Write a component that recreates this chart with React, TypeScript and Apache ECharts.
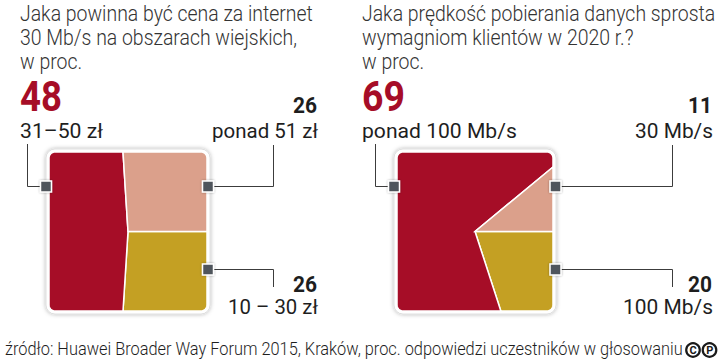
import React, { useEffect, useRef } from "react";
import * as echarts from "echarts";

const leftTitle = ["Jaka powinna być cena za internet", "30 Mb/s na obszarach wiejskich,", "w proc."];
const rightTitle = ["Jaka prędkość pobierania danych sprosta", "wymagniom klientów w 2020 r.?", "w proc."];
const leftCategories = ["31–50 zł", "ponad 51 zł", "10 – 30 zł"];
const leftValues = [48, 26, 26];
const rightCategories = ["ponad 100 Mb/s", "30 Mb/s", "100 Mb/s"];
const rightValues = [69, 11, 20];
const sourceText =
  "źródło: Huawei Broader Way Forum 2015, Kraków, proc. odpowiedzi uczestników w głosowaniu";

const COLORS = ["#a60d27", "#dba08b", "#c4a023"];
const ORDER = [2, 0, 1]; // drawing order, clockwise starting at east

type Box = { x0: number; y0: number; x1: number; y1: number; r: number };

function boundary(b: Box) {
  const cx = (b.x0 + b.x1) / 2;
  const cy = (b.y0 + b.y1) / 2;
  const pts: number[][] = [[b.x1, cy]];
  const arc = (ccx: number, ccy: number, a0: number) => {
    for (let k = 0; k <= 8; k++) {
      const a = ((a0 + (90 * k) / 8) * Math.PI) / 180;
      pts.push([ccx + b.r * Math.cos(a), ccy + b.r * Math.sin(a)]);
    }
  };
  arc(b.x1 - b.r, b.y1 - b.r, 0);
  arc(b.x0 + b.r, b.y1 - b.r, 90);
  arc(b.x0 + b.r, b.y0 + b.r, 180);
  arc(b.x1 - b.r, b.y0 + b.r, 270);
  pts.push([b.x1, cy]);
  const ang = pts.map((p, i) => {
    if (i === 0) return 90;
    if (i === pts.length - 1) return 450;
    let t = (Math.atan2(p[0] - cx, -(p[1] - cy)) * 180) / Math.PI;
    if (t < 90) t += 360;
    return t;
  });
  return { cx, cy, pts, ang };
}

function rayHit(B: ReturnType<typeof boundary>, a: number) {
  const d = [Math.sin((a * Math.PI) / 180), -Math.cos((a * Math.PI) / 180)];
  for (let i = 0; i < B.pts.length - 1; i++) {
    if (B.ang[i] <= a + 1e-9 && a <= B.ang[i + 1] + 1e-9) {
      const P = B.pts[i];
      const Q = B.pts[i + 1];
      const e = [Q[0] - P[0], Q[1] - P[1]];
      const w = [P[0] - B.cx, P[1] - B.cy];
      const det = -d[0] * e[1] + e[0] * d[1];
      if (Math.abs(det) < 1e-9) return P;
      const t = (-w[0] * e[1] + e[0] * w[1]) / det;
      return [B.cx + t * d[0], B.cy + t * d[1]];
    }
  }
  return [B.cx, B.cy];
}

function wedge(b: Box, a0: number, a1: number) {
  const B = boundary(b);
  const out: number[][] = [[B.cx, B.cy], rayHit(B, a0)];
  for (let i = 0; i < B.pts.length; i++) {
    if (B.ang[i] > a0 && B.ang[i] < a1) out.push(B.pts[i]);
  }
  out.push(rayHit(B, a1));
  return out;
}

const LEFT_BOX: Box = { x0: 49, y0: 152, x1: 207, y1: 311, r: 6 };
const RIGHT_BOX: Box = { x0: 397, y0: 152, x1: 553, y1: 311, r: 6 };

function squarePie(values: number[], box: Box) {
  const ordered = ORDER.map((i) => values[i]);
  const total = ordered.reduce((s, v) => s + v, 0);
  return {
    type: "custom",
    coordinateSystem: "none",
    z: 5,
    silent: true,
    data: ordered,
    renderItem: (params: any, api: any) => {
      const idx = params.dataIndex;
      let before = 0;
      for (let k = 0; k < idx; k++) before += ordered[k];
      const a0 = 90 + (360 * before) / total;
      const a1 = a0 + (360 * api.value(0)) / total;
      return {
        type: "polygon",
        shape: { points: wedge(box, a0, a1) },
        style: { fill: COLORS[ORDER[idx]], stroke: "#ffffff", lineWidth: 1.5 },
      };
    },
  };
}

let measureCtx: CanvasRenderingContext2D | null = null;
function fit(text: string, size: number, weight: number, target: number) {
  if (!measureCtx) measureCtx = document.createElement("canvas").getContext("2d");
  if (!measureCtx) return 1;
  measureCtx.font = `${weight} ${size}px Roboto`;
  const w = measureCtx.measureText(text).width;
  return w > 0 ? target / w : 1;
}

function txt(
  text: string,
  x: number,
  y: number,
  size: number,
  weight: number,
  color: string,
  align: string,
  sx: number
) {
  return {
    type: "text",
    x,
    y,
    scaleX: sx,
    z: 20,
    silent: true,
    style: {
      text,
      x: 0,
      y: 0,
      fill: color,
      fontSize: size,
      fontWeight: weight,
      fontFamily: "Roboto",
      align,
      verticalAlign: "middle",
    },
  };
}

function marker(x: number, y: number) {
  return {
    type: "rect",
    z: 30,
    silent: true,
    shape: { x: x - 5.5, y: y - 5.5, width: 11, height: 11 },
    style: {
      fill: "#50545b",
      stroke: "#ffffff",
      lineWidth: 1.5,
      shadowBlur: 2,
      shadowColor: "rgba(0,0,0,0.35)",
    },
  };
}

function conn(points: number[][]) {
  return {
    type: "polyline",
    z: 25,
    silent: true,
    shape: { points },
    style: { stroke: "#3c3c3c", lineWidth: 1, fill: null },
  };
}

function frame(b: Box) {
  return {
    type: "rect",
    z: 1,
    silent: true,
    shape: {
      x: b.x0 - 3,
      y: b.y0 - 3,
      width: b.x1 - b.x0 + 6,
      height: b.y1 - b.y0 + 6,
      r: b.r + 3,
    },
    style: {
      fill: "#ffffff",
      stroke: "#d8d8d8",
      lineWidth: 0.8,
      shadowBlur: 4,
      shadowColor: "rgba(0,0,0,0.3)",
    },
  };
}

export default function App() {
  const ref = useRef<HTMLDivElement>(null);
  useEffect(() => {
    if (!ref.current) return;
    const chart = echarts.init(ref.current, undefined, { renderer: "svg" });
    const titleScale = fit(leftTitle[0], 22, 300, 293);
    const RED = "#a60d27";
    const DARK = "#1e1e1e";
    const TITLE = "#333333";
    const elements: any[] = [];
    leftTitle.forEach((t, i) => elements.push(txt(t, 20, 13.5 + i * 24, 22, 300, TITLE, "left", titleScale)));
    rightTitle.forEach((t, i) => elements.push(txt(t, 362, 13.5 + i * 24, 22, 300, TITLE, "left", titleScale)));

    // left chart labels
    elements.push(txt(String(leftValues[0]), 20, 97, 42, 700, RED, "left", fit(String(leftValues[0]), 42, 700, 42)));
    elements.push(txt(leftCategories[0], 20, 131, 20, 400, DARK, "left", fit(leftCategories[0], 20, 400, 83)));
    elements.push(txt(String(leftValues[1]), 317, 105, 22, 700, DARK, "right", fit(String(leftValues[1]), 22, 700, 24)));
    elements.push(txt(leftCategories[1], 318, 131, 20, 400, DARK, "right", fit(leftCategories[1], 20, 400, 106)));
    elements.push(txt(String(leftValues[2]), 317, 284, 22, 700, DARK, "right", fit(String(leftValues[2]), 22, 700, 24)));
    elements.push(txt(leftCategories[2], 318, 307, 20, 400, DARK, "right", fit(leftCategories[2], 20, 400, 90)));

    // right chart labels
    elements.push(txt(String(rightValues[0]), 362, 97, 42, 700, RED, "left", fit(String(rightValues[0]), 42, 700, 43)));
    elements.push(txt(rightCategories[0], 362, 131, 20, 400, DARK, "left", fit(rightCategories[0], 20, 400, 155)));
    elements.push(txt(String(rightValues[1]), 712, 105, 22, 700, DARK, "right", fit(String(rightValues[1]), 22, 700, 24)));
    elements.push(txt(rightCategories[1], 713, 131, 20, 400, DARK, "right", fit(rightCategories[1], 20, 400, 78)));
    elements.push(txt(String(rightValues[2]), 712, 284, 22, 700, DARK, "right", fit(String(rightValues[2]), 22, 700, 24)));
    elements.push(txt(rightCategories[2], 713, 307, 20, 400, DARK, "right", fit(rightCategories[2], 20, 400, 90)));

    // frames
    elements.push(frame(LEFT_BOX));
    elements.push(frame(RIGHT_BOX));

    // connectors
    elements.push(conn([[27.5, 144], [27.5, 186.5], [46, 186.5]]));
    elements.push(conn([[208, 186.5], [273.5, 186.5], [273.5, 145]]));
    elements.push(conn([[208, 269.5], [273.5, 269.5], [273.5, 287]]));
    elements.push(conn([[375.5, 144], [375.5, 186.5], [394, 186.5]]));
    elements.push(conn([[555, 186.5], [672.5, 186.5], [672.5, 145]]));
    elements.push(conn([[555, 269.5], [672.5, 269.5], [672.5, 287]]));

    // markers
    elements.push(marker(46, 186.5));
    elements.push(marker(208, 186.5));
    elements.push(marker(208, 269.5));
    elements.push(marker(394, 186.5));
    elements.push(marker(555.5, 186.5));
    elements.push(marker(555.5, 269.5));

    // source
    elements.push(txt(sourceText, 5, 349, 18, 300, DARK, "left", fit(sourceText, 18, 300, 678)));
    elements.push({
      type: "circle",
      z: 20,
      silent: true,
      shape: { cx: 693, cy: 350, r: 6.8 },
      style: { fill: "none", stroke: "#1a1a1a", lineWidth: 2.2 },
    });
    elements.push({
      type: "circle",
      z: 20,
      silent: true,
      shape: { cx: 709.5, cy: 350, r: 6.8 },
      style: { fill: "none", stroke: "#1a1a1a", lineWidth: 2.2 },
    });
    elements.push(txt("C", 693, 350.5, 11, 700, "#1a1a1a", "center", 1));
    elements.push(txt("P", 709.8, 350.5, 11, 700, "#1a1a1a", "center", 1));

    chart.setOption({
      animation: false,
      backgroundColor: "#ffffff",
      graphic: { elements },
      series: [squarePie(leftValues, LEFT_BOX), squarePie(rightValues, RIGHT_BOX)],
    });
    return () => chart.dispose();
  }, []);
  return <div ref={ref} style={{ width: 720, height: 360, position: "absolute", left: 0, top: 0 }} />;
}
